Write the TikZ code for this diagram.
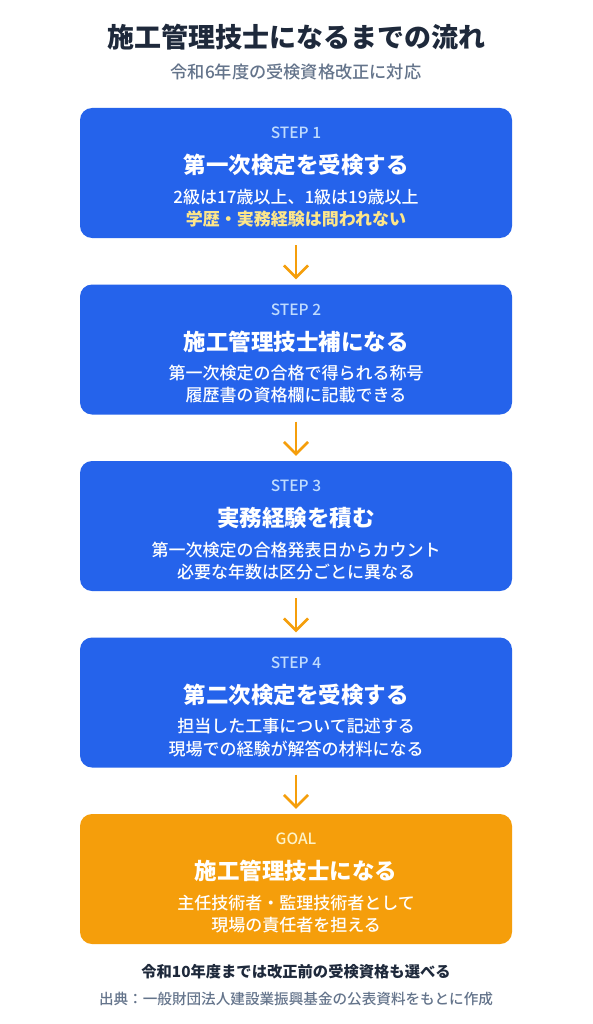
\documentclass[tikz,border=0pt]{standalone}
\usepackage{fontspec}
\setmainfont{Noto Sans CJK JP}
\newfontfamily\mediumcjk{Noto Sans CJK JP Medium}
\usetikzlibrary{arrows.meta}

\definecolor{inkdark}{HTML}{1E293B}
\definecolor{inkgray}{HTML}{64748B}
\definecolor{stepblue}{HTML}{2563EB}
\definecolor{steplabel}{HTML}{BFDBFE}
\definecolor{goalorange}{HTML}{F59E0B}
\definecolor{goallabel}{HTML}{FEF3C7}
\definecolor{notecream}{HTML}{FDE68A}

\begin{document}
\begin{tikzpicture}[x=1pt,y=1pt]
\tikzstyle{every node}+=[inner sep=0pt]
\tikzstyle{stepbox}=[fill=stepblue, rounded corners=12pt, minimum width=432pt, minimum height=130pt]
\tikzstyle{goalbox}=[stepbox, fill=goalorange]
\tikzstyle{steptag}=[text=steplabel, font=\mediumcjk\fontsize{15.5}{18}\selectfont]
\tikzstyle{goaltag}=[steptag, text=goallabel]
\tikzstyle{stephead}=[text=white, font=\bfseries\fontsize{22.5}{26}\selectfont]
\tikzstyle{stepline}=[text=white, font=\mediumcjk\fontsize{17}{20}\selectfont]
\tikzstyle{flow}=[draw=goalorange, line width=2.6pt, shorten <=7pt, shorten >=5pt, -{Straight Barb[length=12pt,width=24pt]}]
\useasboundingbox [fill=white] (0,0) rectangle (592,-1024);
% title
\node [text=inkdark, font=\bfseries\fontsize{27}{32}\selectfont] (title) at (296,-37) {施工管理技士になるまでの流れ};
\node [text=inkgray, font=\mediumcjk\fontsize{17.2}{20}\selectfont] (subtitle) at (296,-72) {令和6年度の受検資格改正に対応};
% step 1
\node [stepbox] (s1) at (296,-173) {};
\node [steptag] (s1tag) at (296,-133) {STEP 1};
\node [stephead] (s1head) at (296,-165) {第一次検定を受検する};
\node [stepline] (s1a) at (296,-197) {2級は17歳以上、1級は19歳以上};
\node [stepline, text=notecream, font=\bfseries\fontsize{17}{20}\selectfont] (s1b) at (296,-219) {学歴・実務経験は問われない};
% step 2
\node [stepbox] (s2) at (296,-349.5) {};
\node [steptag] (s2tag) at (296,-309.5) {STEP 2};
\node [stephead] (s2head) at (296,-341.5) {施工管理技士補になる};
\node [stepline] (s2a) at (296,-373.5) {第一次検定の合格で得られる称号};
\node [stepline] (s2b) at (296,-395.5) {履歴書の資格欄に記載できる};
% step 3
\node [stepbox] (s3) at (296,-526) {};
\node [steptag] (s3tag) at (296,-486) {STEP 3};
\node [stephead] (s3head) at (296,-518) {実務経験を積む};
\node [stepline] (s3a) at (296,-550) {第一次検定の合格発表日からカウント};
\node [stepline] (s3b) at (296,-572) {必要な年数は区分ごとに異なる};
% step 4
\node [stepbox] (s4) at (296,-702.5) {};
\node [steptag] (s4tag) at (296,-662.5) {STEP 4};
\node [stephead] (s4head) at (296,-694.5) {第二次検定を受検する};
\node [stepline] (s4a) at (296,-726.5) {担当した工事について記述する};
\node [stepline] (s4b) at (296,-748.5) {現場での経験が解答の材料になる};
% goal
\node [goalbox] (goal) at (296,-879) {};
\node [goaltag] (goaltag) at (296,-839) {GOAL};
\node [stephead] (goalhead) at (296,-871) {施工管理技士になる};
\node [stepline] (goala) at (296,-903) {主任技術者・監理技術者として};
\node [stepline] (goalb) at (296,-925) {現場の責任者を担える};
% arrows
\draw [flow] (s1) -- (s2);
\draw [flow] (s2) -- (s3);
\draw [flow] (s3) -- (s4);
\draw [flow] (s4) -- (goal);
% footer
\node [text=inkdark, font=\bfseries\fontsize{15.3}{19}\selectfont] (note) at (296,-972) {令和10年度までは改正前の受検資格も選べる};
\node [text=inkgray, font=\mediumcjk\fontsize{14.6}{18}\selectfont] (source) at (296,-999) {出典：一般財団法人建設業振興基金の公表資料をもとに作成};
\end{tikzpicture}
\end{document}
